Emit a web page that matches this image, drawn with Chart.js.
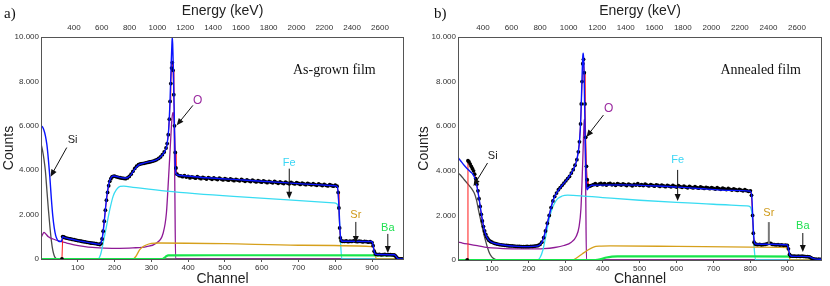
<!DOCTYPE html>
<html>
<head>
<meta charset="utf-8">
<script src="https://cdn.jsdelivr.net/npm/chart.js@4.4.1/dist/chart.umd.min.js"></script>
<style>
body { margin: 0; background: #fff; }
#wrap { position: relative; width: 830px; height: 286px; }
#wrap canvas { position: absolute; top: 0; }
</style>
</head>
<body>
<div id="wrap">
<canvas id="doThiA" width="415" height="286" style="left:0"></canvas>
<canvas id="doThiB" width="415" height="286" style="left:415px"></canvas>
</div>
<script>
// ===== Panel a) as-grown film =====
// measured spectrum (channel / counts)
var chA = [57,59,62,65,70,75,80,85,90,95,
    100,105,110,115,120,125,130,135,140,145,
    150,155,160,163,166,169,172,175,178,181,
    184,187,190,193,196,200,205,210,215,220,
    225,230,235,240,245,250,255,260,265,270,
    275,280,285,290,295,300,305,310,315,320,
    325,330,335,340,343,346,349,351,353,355,
    357,359,361,363,365,367,370,375,380,385,
    390,395,400,405,410,415,420,425,430,435,
    440,445,450,455,460,465,470,475,480,485,
    490,495,500,505,510,515,520,525,530,535,
    540,545,550,555,560,565,570,575,580,585,
    590,595,600,605,610,615,620,625,630,635,
    640,645,650,655,660,665,670,675,680,685,
    690,695,700,705,710,715,720,725,730,735,
    740,745,750,755,760,765,770,775,780,785,
    790,795,800,805,808,810,812,814,816,820,
    825,830,835,840,845,850,855,860,865,870,
    875,880,885,890,895,900,903,906,909,912,
    916,920,925,930,935,940,945,950,955,960,
    963,966,969,972,976,980,985];
var cntA = [0,1010,990,960,940,920,905,880,870,850,
    830,820,800,780,770,750,740,720,715,700,
    690,670,650,700,900,1250,1700,2200,2650,3000,
    3300,3500,3620,3700,3720,3730,3700,3680,3660,3640,
    3630,3620,3650,3720,3820,3950,4080,4180,4250,4280,
    4300,4310,4330,4350,4370,4390,4410,4440,4480,4530,
    4600,4700,4820,5000,5200,5600,6300,7100,7900,8600,
    8850,8500,7400,6000,4800,4100,3820,3760,3740,3710,
    3760,3690,3720,3650,3700,3680,3640,3710,3660,3620,
    3680,3640,3600,3670,3630,3590,3650,3610,3580,3640,
    3600,3560,3620,3580,3550,3610,3570,3530,3590,3550,
    3520,3580,3540,3500,3560,3520,3490,3550,3510,3470,
    3530,3490,3460,3520,3480,3440,3500,3460,3430,3490,
    3450,3410,3470,3430,3400,3460,3420,3390,3450,3410,
    3380,3440,3400,3360,3420,3380,3350,3410,3370,3340,
    3390,3350,3320,3380,3340,3310,3360,3320,3290,3350,
    3310,3280,3330,3280,3000,2300,1400,950,820,800,
    790,810,780,800,790,820,800,780,800,790,
    770,790,780,760,780,740,600,350,230,210,
    200,210,190,200,210,190,200,195,190,180,
    150,90,40,10,0,0,0];
// simulated total
var fitChA = [0,4,8,12,16,20,24,28,32,36,
    40,44,48,52,56,59,65,80,100,120,
    140,155,160,164,168,172,176,180,184,188,
    192,198,210,225,235,245,255,265,280,300,
    315,325,335,342,347,351,354,356,357,358,
    360,362,364,366,369,380,450,550,650,750,
    800,806,810,813,816,820,900,903,906,909,
    915,960,964,968,972,976,985];
var fitA = [6000,5950,5800,5550,5150,4500,3700,2750,1950,1400,
    1050,880,800,790,820,1000,960,900,830,770,
    710,670,660,760,1100,1700,2400,2950,3350,3580,
    3700,3740,3700,3650,3660,3800,4050,4230,4320,4400,
    4480,4600,4800,5100,5800,7200,8800,9700,10000,9700,
    8500,6800,5000,4000,3800,3760,3660,3560,3450,3350,
    3300,3250,2400,1300,850,800,790,600,330,220,
    205,190,150,60,10,0,0];
// element partial spectra
var siChA = [0,4,8,12,16,20,24,28,32,36,40,44,987];
var siA = [5200,4900,4500,3950,3100,2250,1500,850,400,150,40,0,0];
var oChA = [0,4,8,12,20,33,50,70,90,115,140,160,200,250,287,314,332,341,347,352,356,359,362,364,366,987];
var oA = [950,1100,1200,1150,1000,900,800,720,640,570,520,500,480,500,560,720,1160,2070,3700,5200,6300,6600,6000,3000,0,0];
var feChA = [0,155,162,169,178,187,196,205,215,225,250,341,523,795,805,810,814,818,987];
var feA = [0,0,200,720,1470,2220,2820,3120,3270,3280,3230,3060,2820,2530,2480,2100,900,0,0];
var srChA = [0,250,258,268,278,286,300,320,500,700,900,905,909,913,987];
var srA = [0,0,120,410,560,630,700,720,690,620,560,480,150,0,0];
var baChA = [0,330,336,341,346,500,960,966,972,987];
var baA = [0,0,60,130,165,170,160,90,0,0];

// ===== Panel b) annealed film =====
var chB = [33,35,38,41,44,47,50,53,56,59,
    62,65,68,71,74,77,80,83,86,89,
    92,96,100,105,110,115,120,125,130,135,
    140,145,150,155,160,165,170,175,180,185,
    190,195,200,205,210,215,220,225,230,235,
    240,245,250,255,260,265,270,275,280,285,
    290,295,300,305,310,315,320,325,330,334,
    337,340,342,344,346,348,350,352,354,356,
    358,360,363,366,370,375,380,385,390,395,
    400,405,410,415,420,425,430,435,440,445,
    450,455,460,465,470,475,480,485,490,495,
    500,505,510,515,520,525,530,535,540,545,
    550,555,560,565,570,575,580,585,590,595,
    600,605,610,615,620,625,630,635,640,645,
    650,655,660,665,670,675,680,685,690,695,
    700,705,710,715,720,725,730,735,740,745,
    750,755,760,765,770,775,780,785,790,795,
    800,803,806,808,810,813,816,820,825,830,
    835,840,845,850,855,860,865,870,875,880,
    885,890,895,900,903,906,909,915,920,925,
    930,935,940,945,950,955,960,964,968,972,
    978,985,990];
var cntB = [0,4450,4400,4300,4200,4100,4000,3850,3650,3400,
    3100,2750,2400,2050,1750,1500,1300,1150,1030,950,
    880,830,800,760,730,710,690,680,670,660,
    650,640,630,630,620,615,610,610,600,600,
    600,605,600,610,610,620,630,650,700,800,
    1000,1300,1650,2000,2350,2650,2850,3000,3150,3250,
    3350,3450,3550,3650,3750,3900,4050,4250,4500,4850,
    5300,6100,7000,8000,8800,9000,8400,7000,5500,4200,
    3600,3350,3300,3320,3350,3380,3420,3360,3400,3440,
    3380,3420,3360,3410,3440,3370,3400,3350,3420,3390,
    3360,3410,3380,3340,3400,3370,3330,3390,3360,3420,
    3350,3380,3340,3400,3360,3320,3380,3350,3310,3370,
    3340,3300,3360,3320,3290,3350,3310,3280,3340,3300,
    3270,3330,3290,3260,3310,3270,3240,3300,3260,3230,
    3290,3250,3220,3280,3240,3210,3260,3230,3200,3250,
    3210,3180,3240,3200,3170,3220,3190,3160,3210,3170,
    3140,3190,3150,3120,3170,3130,3100,3150,3110,3080,
    3100,2900,2000,1200,800,720,700,690,700,680,
    690,700,720,760,740,700,690,680,690,670,
    680,660,670,650,500,250,180,170,175,165,
    170,160,170,160,155,150,140,100,60,45,
    40,35,30];
var fitChB = [8,15,22,30,36,42,48,54,58,62,
    66,70,74,78,82,86,92,100,115,140,
    170,200,220,230,238,245,255,265,275,290,
    305,320,330,337,341,344,346,347,348,350,
    352,354,356,358,362,370,450,550,650,750,
    800,804,807,810,814,900,903,907,912,960,
    965,972,980,994];
var fitB = [4600,4450,4300,4150,4050,3950,3850,3650,3400,3050,
    2650,2200,1800,1450,1200,1030,880,790,720,650,
    610,600,620,680,900,1300,2000,2650,3000,3350,
    3650,4050,4500,5300,6500,8200,9100,9270,9100,8000,
    6000,4300,3400,3150,3250,3350,3370,3320,3220,3120,
    3080,2800,1700,900,720,680,500,220,170,150,
    110,60,40,30];
var siChB = [8,15,25,35,45,52,58,64,70,76,82,88,94,100,106,112,118,994];
var siB = [3900,3800,3600,3400,3200,3000,2700,2200,1750,1300,900,550,280,130,50,10,0,0];
var oChB = [8,20,40,60,80,100,130,160,200,240,270,295,315,328,336,341,344,347,349,350,352,354,356,994];
var oB = [800,760,700,640,580,540,510,500,495,510,560,650,800,1050,1500,2300,3500,5000,6000,6300,5800,3000,0,0];
var feChB = [8,222,230,238,245,252,260,268,278,290,305,320,400,500,600,700,790,800,806,810,814,994];
var feB = [0,0,100,450,1000,1600,2150,2500,2750,2870,2910,2900,2800,2680,2580,2500,2430,2380,1800,600,0,0];
var srChB = [8,318,330,345,360,375,390,420,600,800,900,903,906,909,994];
var srB = [0,0,100,280,450,580,620,630,610,580,560,400,100,0,0];
var baChB = [8,380,395,410,425,440,600,800,950,960,970,975,994];
var baB = [0,0,40,110,150,165,165,160,155,120,40,0,0];

// tick labels
var yTicks = [0, 2000, 4000, 6000, 8000, 10000];
var channelTicks = [100, 200, 300, 400, 500, 600, 700, 800, 900];
var energyTicks = [400, 600, 800, 1000, 1200, 1400, 1600, 1800, 2000, 2200, 2400, 2600];

var mau = {
    fit: '#0a14ff', data: '#ff1a1a', si: '#4a4a4a', o: '#8e1a96',
    fe: '#38dcf2', sr: '#d6a01c', ba: '#16e64a'
};

Chart.defaults.font.family = 'Arial, "Liberation Sans", sans-serif';
Chart.defaults.color = '#333';

function toPoints(chs, vals) {
    return chs.map(function (c, i) { return { x: c, y: vals[i] }; });
}

function fmtCounts(v) {
    return String(v).replace(/\B(?=(\d{3})+(?!\d))/g, '.');
}

var pluginGhiChu = {
    id: 'ghiChu',
    afterDatasetsDraw: function (chart, args, opts) {
        var ctx = chart.ctx, a = chart.chartArea;
        var sx = chart.scales.x, sy = chart.scales.y;
        ctx.save();
        ctx.strokeStyle = '#555';
        ctx.lineWidth = 1;
        ctx.strokeRect(a.left + 0.5, a.top + 0.5, a.right - a.left - 1, a.bottom - a.top);
        // panel letter
        ctx.fillStyle = '#111';
        ctx.font = '15px "Liberation Serif", "Times New Roman", serif';
        ctx.textAlign = 'left';
        ctx.textBaseline = 'middle';
        ctx.fillText(opts.letter, opts.letterX, 14);
        // film label
        ctx.font = '14px "Liberation Serif", "Times New Roman", serif';
        ctx.fillText(opts.film.text, sx.getPixelForValue(opts.film.x), sy.getPixelForValue(opts.film.y));
        // element labels
        ctx.textAlign = 'center';
        opts.nhan.forEach(function (n) {
            ctx.fillStyle = n.color;
            ctx.font = n.size + 'px Arial, "Liberation Sans", sans-serif';
            ctx.fillText(n.text, sx.getPixelForValue(n.x), sy.getPixelForValue(n.y));
        });
        // arrows
        opts.muiTen.forEach(function (m) {
            var x1 = sx.getPixelForValue(m.x1), y1 = sy.getPixelForValue(m.y1);
            var x2 = sx.getPixelForValue(m.x2), y2 = sy.getPixelForValue(m.y2);
            var c = m.color || '#111';
            ctx.strokeStyle = c;
            ctx.fillStyle = c;
            ctx.lineWidth = m.width || 1;
            var ang = Math.atan2(y2 - y1, x2 - x1);
            var hl = m.head ? 6 : 0;
            ctx.beginPath();
            ctx.moveTo(x1, y1);
            ctx.lineTo(x2 - hl * Math.cos(ang), y2 - hl * Math.sin(ang));
            ctx.stroke();
            if (m.head) {
                ctx.beginPath();
                ctx.moveTo(x2, y2);
                ctx.lineTo(x2 - 7 * Math.cos(ang) + 3 * Math.sin(ang), y2 - 7 * Math.sin(ang) - 3 * Math.cos(ang));
                ctx.lineTo(x2 - 7 * Math.cos(ang) - 3 * Math.sin(ang), y2 - 7 * Math.sin(ang) + 3 * Math.cos(ang));
                ctx.closePath();
                ctx.fill();
            }
        });
        ctx.restore();
    }
};

function renderPanel(id, p) {
    var ctx = document.getElementById(id).getContext('2d');
    var datasets = [];
    // total fit on top
    datasets.push({
        data: toPoints(p.fit[0], p.fit[1]),
        borderColor: mau.fit, borderWidth: 1.4, pointRadius: 0,
        cubicInterpolationMode: 'monotone'
    });
    // measured points + red line
    datasets.push({
        data: toPoints(p.data[0], p.data[1]),
        borderColor: mau.data, borderWidth: 1,
        pointRadius: 1.9, pointBackgroundColor: '#000', pointBorderWidth: 0,
        tension: 0
    });
    // element curves: Ba drawn above Si so its zero baseline stays green
    var order = [4, 3, 2, 1, 0];
    order.forEach(function (k) {
        var e = p.el[k];
        datasets.push({
            data: toPoints(e[0], e[1]),
            borderColor: e[2], borderWidth: k === 4 ? 2.2 : 1.3, pointRadius: 0,
            cubicInterpolationMode: 'monotone'
        });
    });

    new Chart(ctx, {
        type: 'line',
        data: { datasets: datasets },
        plugins: [pluginGhiChu],
        options: {
            responsive: false,
            animation: false,
            devicePixelRatio: 1,
            layout: { padding: { left: 0, right: p.padR, top: 0, bottom: 0 } },
            plugins: {
                legend: { display: false },
                tooltip: { enabled: false },
                ghiChu: { letter: p.letter, letterX: p.letterX, film: p.film, nhan: p.nhan, muiTen: p.muiTen }
            },
            scales: {
                x: {
                    type: 'linear', position: 'bottom', min: p.xMin, max: p.xMax,
                    afterBuildTicks: function (s) {
                        s.ticks = channelTicks.map(function (v) { return { value: v }; });
                    },
                    afterFit: function (s) { s.height = p.botH; },
                    ticks: { font: { size: 8 }, color: '#333', padding: 1, maxRotation: 0, autoSkip: false,
                        callback: function (v) { return String(v); } },
                    grid: { display: true, drawOnChartArea: false, drawTicks: true, tickLength: 3, color: '#555' },
                    border: { display: false },
                    title: { display: true, text: 'Channel', color: '#222', font: { size: 14, lineHeight: 1 }, padding: { top: 0, bottom: 0 } }
                },
                x2: {
                    type: 'linear', position: 'top', min: p.eMin, max: p.eMax,
                    afterBuildTicks: function (s) {
                        s.ticks = energyTicks.map(function (v) { return { value: v }; });
                    },
                    afterFit: function (s) { s.height = 37; },
                    ticks: { font: { size: 8 }, color: '#333', padding: 4, maxRotation: 0, autoSkip: false,
                        callback: function (v) { return String(v); } },
                    grid: { display: false, drawTicks: false },
                    border: { display: false },
                    title: { display: true, text: 'Energy (keV)', color: '#222', font: { size: 14, lineHeight: 1 }, padding: { top: 4, bottom: 0 } }
                },
                y: {
                    min: 0, max: 10000,
                    afterBuildTicks: function (s) {
                        s.ticks = yTicks.map(function (v) { return { value: v }; });
                    },
                    afterFit: function (s) { s.width = p.yW; },
                    ticks: { font: { size: 8 }, color: '#333', padding: 2, callback: function (v) { return fmtCounts(v); } },
                    grid: { display: false, drawTicks: false },
                    border: { display: false },
                    title: { display: true, text: 'Counts', color: '#222', font: { size: 14, lineHeight: 1 }, padding: { top: 2, bottom: 0 } }
                }
            }
        }
    });
}

renderPanel('doThiA', {
    data: [chA, cntA], fit: [fitChA, fitA],
    el: [[siChA, siA, mau.si], [oChA, oA, mau.o], [feChA, feA, mau.fe], [srChA, srA, mau.sr], [baChA, baA, mau.ba]],
    xMin: 0, xMax: 987, eMin: 163, eMax: 2773,
    yW: 41, padR: 11, botH: 27,
    letter: 'a)', letterX: 4, film: { text: 'As-grown film', x: 685, y: 8500 },
    nhan: [
        { text: 'O', x: 426, y: 7150, color: '#9a2aa0', size: 12 },
        { text: 'Si', x: 86, y: 5340, color: '#222', size: 11 },
        { text: 'Fe', x: 675, y: 4340, color: '#3ad6f5', size: 11 },
        { text: 'Sr', x: 856, y: 1990, color: '#cf9a1a', size: 11 },
        { text: 'Ba', x: 943, y: 1400, color: '#1ee050', size: 11 }
    ],
    muiTen: [
        { x1: 413, y1: 6920, x2: 369, y2: 6020, head: true },
        { x1: 70, y1: 5020, x2: 26, y2: 3710, head: true },
        { x1: 675, y1: 4070, x2: 675, y2: 2710, head: true },
        { x1: 856, y1: 1670, x2: 856, y2: 720, head: true },
        { x1: 943, y1: 1130, x2: 943, y2: 270, head: true }
    ]
});
renderPanel('doThiB', {
    data: [chB, cntB], fit: [fitChB, fitB],
    el: [[siChB, siB, mau.si], [oChB, oB, mau.o], [feChB, feB, mau.fe], [srChB, srB, mau.sr], [baChB, baB, mau.ba]],
    xMin: 8, xMax: 994, eMin: 225, eMax: 2775,
    yW: 43, padR: 8, botH: 26,
    letter: 'b)', letterX: 19, film: { text: 'Annealed film', x: 719, y: 8520 },
    nhan: [
        { text: 'O', x: 416, y: 6770, color: '#9a2aa0', size: 12 },
        { text: 'Si', x: 102, y: 4660, color: '#222', size: 11 },
        { text: 'Fe', x: 603, y: 4480, color: '#3ad6f5', size: 11 },
        { text: 'Sr', x: 850, y: 2110, color: '#cf9a1a', size: 11 },
        { text: 'Ba', x: 942, y: 1520, color: '#1ee050', size: 11 }
    ],
    muiTen: [
        { x1: 402, y1: 6500, x2: 356, y2: 5520, head: true },
        { x1: 88, y1: 4350, x2: 50, y2: 3320, head: true },
        { x1: 603, y1: 4040, x2: 603, y2: 2650, head: true },
        { x1: 850, y1: 1700, x2: 850, y2: 720, head: false, color: '#777', width: 2 },
        { x1: 942, y1: 1210, x2: 942, y2: 360, head: true }
    ]
});
</script>
</body>
</html>
